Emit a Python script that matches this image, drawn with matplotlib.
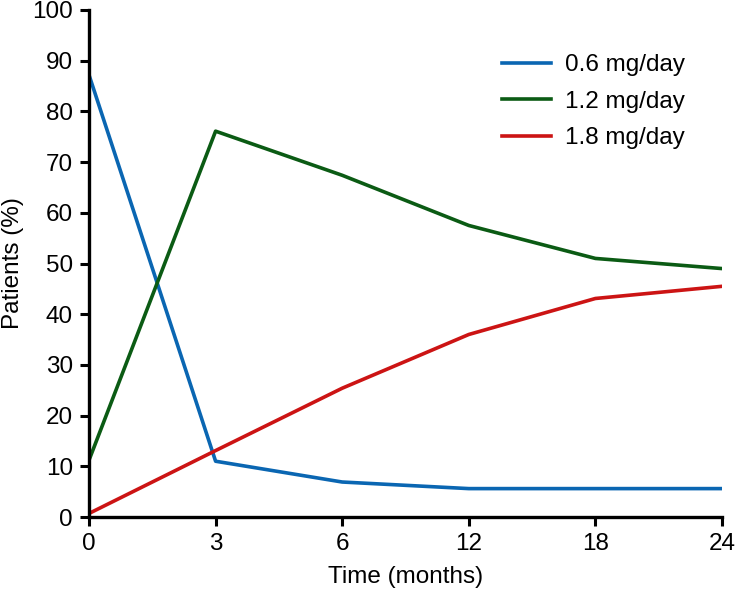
import numpy as np
import matplotlib.pyplot as plt

plt.rcParams['font.family'] = ['Liberation Sans', 'DejaVu Sans']

months = ['0', '3', '6', '12', '18', '24']
dose_06 = [87.2, 11.0, 6.9, 5.6, 5.6, 5.6]
dose_12 = [11.2, 76.1, 67.4, 57.5, 51.0, 49.0]
dose_18 = [0.7, 13.1, 25.4, 36.0, 43.1, 45.5]
labels = ['0.6 mg/day', '1.2 mg/day', '1.8 mg/day']

W, H = 737, 593
fig = plt.figure(figsize=(W / 100, H / 100), dpi=100)
ax = fig.add_axes([89 / W, 1 - 517 / H, 633 / W, 507 / H])

fs = 17.5
x = np.arange(len(months))
ax.plot(x, dose_06, color='#0a66b2', lw=2.6, label=labels[0])
ax.plot(x, dose_12, color='#0b5b14', lw=2.6, label=labels[1])
ax.plot(x, dose_18, color='#cc1414', lw=2.6, label=labels[2])

ax.set_xlim(0, len(months) - 1)
ax.set_ylim(0, 100)
ax.set_xticks(x)
ax.set_xticklabels(months)
ax.set_yticks(np.arange(0, 101, 10))
for s in ['top', 'right']:
    ax.spines[s].set_visible(False)
for s in ['left', 'bottom']:
    ax.spines[s].set_linewidth(2.4)
ax.tick_params(direction='out', length=6.5, width=2.2, labelsize=fs, pad=5)
ax.set_xlabel('Time (months)', fontsize=fs)
ax.set_ylabel('Patients (%)', fontsize=fs)
ax.xaxis.set_label_coords(0.5, -0.096)
ax.yaxis.set_label_coords(-0.103, 0.5)

ax.legend(loc='upper left', bbox_to_anchor=(502 / W, 1 - 54 / H),
          bbox_transform=fig.transFigure, frameon=False, fontsize=fs,
          handlelength=2.0, handletextpad=0.6, labelspacing=0.6,
          borderpad=0, borderaxespad=0)

plt.savefig('out.png', dpi=100)
